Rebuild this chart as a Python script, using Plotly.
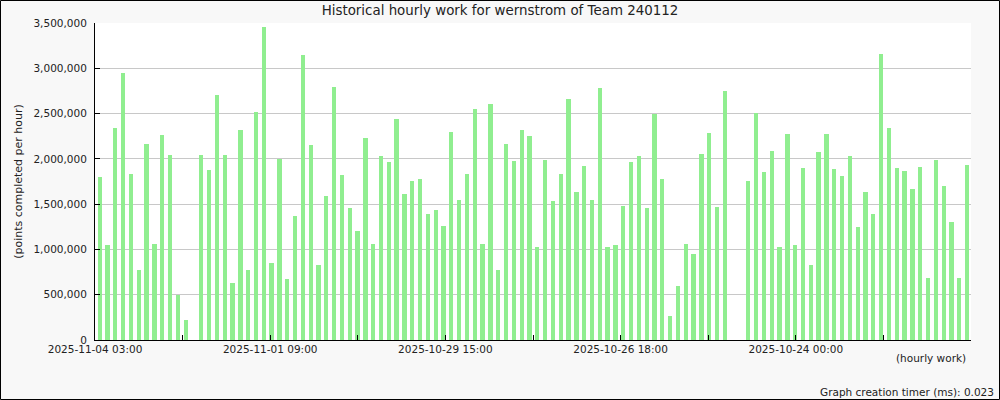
import plotly.graph_objects as go

# points completed per hour (thousands), slot order left -> right
points_k = [1800, 1050, 2340, 2950, 1835, 775, 2165, 1060, 2265, 2045, 495, 220, 0,
            2045, 1880, 2710, 2045, 630, 2320, 775, 2520, 3455, 850, 2000, 675, 1370,
            3150, 2155, 830, 1590, 2795, 1825, 1460, 1205, 2235, 1060, 2035, 1965, 2445,
            1615, 1755, 1780, 1395, 1440, 1260, 2300, 1545, 1835, 2555, 1060, 2610, 775,
            2165, 1980, 2320, 2255, 1030, 1990, 1535, 1835, 2665, 1635, 1925, 1545, 2785,
            1030, 1050, 1480, 1965, 2035, 1460, 2500, 1780, 265, 600, 1060, 950, 2055,
            2290, 1470, 2750, 0, 0, 1755, 2510, 1855, 2090, 1030, 2275, 1050, 1900, 830,
            2080, 2275, 1890, 1815, 2035, 1250, 1635, 1395, 3160, 2345, 1900, 1870, 1670,
            1910, 685, 1990, 1700, 1305, 685, 1935]
values = [v * 1000 for v in points_k]
slots = list(range(len(values)))

tick_labels = ["2025-11-04 03:00", "", "2025-11-01 09:00", "", "2025-10-29 15:00", "",
               "2025-10-26 18:00", "", "2025-10-24 00:00", ""]
x_start = -0.6
tick_step = 11.21
tick_pos = [x_start + i * tick_step for i in range(len(tick_labels))]

y_ticks = [0, 500000, 1000000, 1500000, 2000000, 2500000, 3000000, 3500000]
y_labels = ["0", "500,000", "1,000,000", "1,500,000", "2,000,000", "2,500,000", "3,000,000", "3,500,000"]

FONT = "DejaVu Sans"
TXT = "#222222"

fig = go.Figure()
fig.add_trace(go.Bar(x=slots, y=values, marker=dict(color="#90ee90", line=dict(width=0)),
                     width=0.55, hoverinfo="y"))

ML, MR, MT, MB = 95, 29, 23, 60
PW, PH = 1000 - ML - MR, 400 - MT - MB

fig.update_layout(
    width=1000, height=400,
    margin=dict(l=ML, r=MR, t=MT, b=MB, pad=0),
    paper_bgcolor="#f8f8f8", plot_bgcolor="#ffffff",
    font=dict(family=FONT, size=10.5, color=TXT),
    showlegend=False,
    bargap=0,
    title=dict(text="Historical hourly work for wernstrom of Team 240112",
               x=0.5, xanchor="center", y=1 - 10 / 400, yanchor="middle",
               font=dict(family=FONT, size=13.4, color=TXT)),
    xaxis=dict(range=[x_start - 0.001, 111.5], tickmode="array", tickvals=tick_pos, ticktext=tick_labels,
               ticks="inside", ticklen=5, tickcolor="#000000", tickwidth=1,
               showline=True, linecolor="#000000", linewidth=1,
               showgrid=False, zeroline=False, ticklabelstandoff=-1,
               tickfont=dict(family=FONT, size=10.5, color=TXT)),
    yaxis=dict(range=[0, 3500000], tickmode="array", tickvals=y_ticks, ticktext=y_labels,
               ticks="inside", ticklen=5, tickcolor="#000000", tickwidth=1,
               showline=True, linecolor="#000000", linewidth=1,
               showgrid=True, gridcolor="#c8c8c8", gridwidth=1, zeroline=False,
               ticklabelstandoff=5,
               title=dict(text="(points completed per hour)", standoff=8,
                          font=dict(family=FONT, size=11, color=TXT)),
               tickfont=dict(family=FONT, size=10.5, color=TXT)),
)

fig.add_annotation(text="(hourly work)", xref="paper", yref="paper",
                   x=(968 - ML) / PW, y=-(358 - 340) / PH, xanchor="right", yanchor="middle",
                   showarrow=False, font=dict(family=FONT, size=10.5, color=TXT))
fig.add_annotation(text="Graph creation timer (ms): 0.023", xref="paper", yref="paper",
                   x=(996 - ML) / PW, y=-(392 - 340) / PH, xanchor="right", yanchor="middle",
                   showarrow=False, font=dict(family=FONT, size=10.5, color=TXT))

# outer border of the image
fig.add_shape(type="rect", xref="paper", yref="paper", layer="above",
              x0=-(ML - 0.5) / PW, x1=1 + (MR - 0.5) / PW,
              y0=-(MB - 0.5) / PH, y1=1 + (MT - 0.5) / PH,
              line=dict(color="#000000", width=1))

fig.write_html("out.html", config={"displayModeBar": False},
               post_script="document.body.style.margin='0';document.body.style.padding='0';"
                           "document.body.style.overflow='hidden';")
